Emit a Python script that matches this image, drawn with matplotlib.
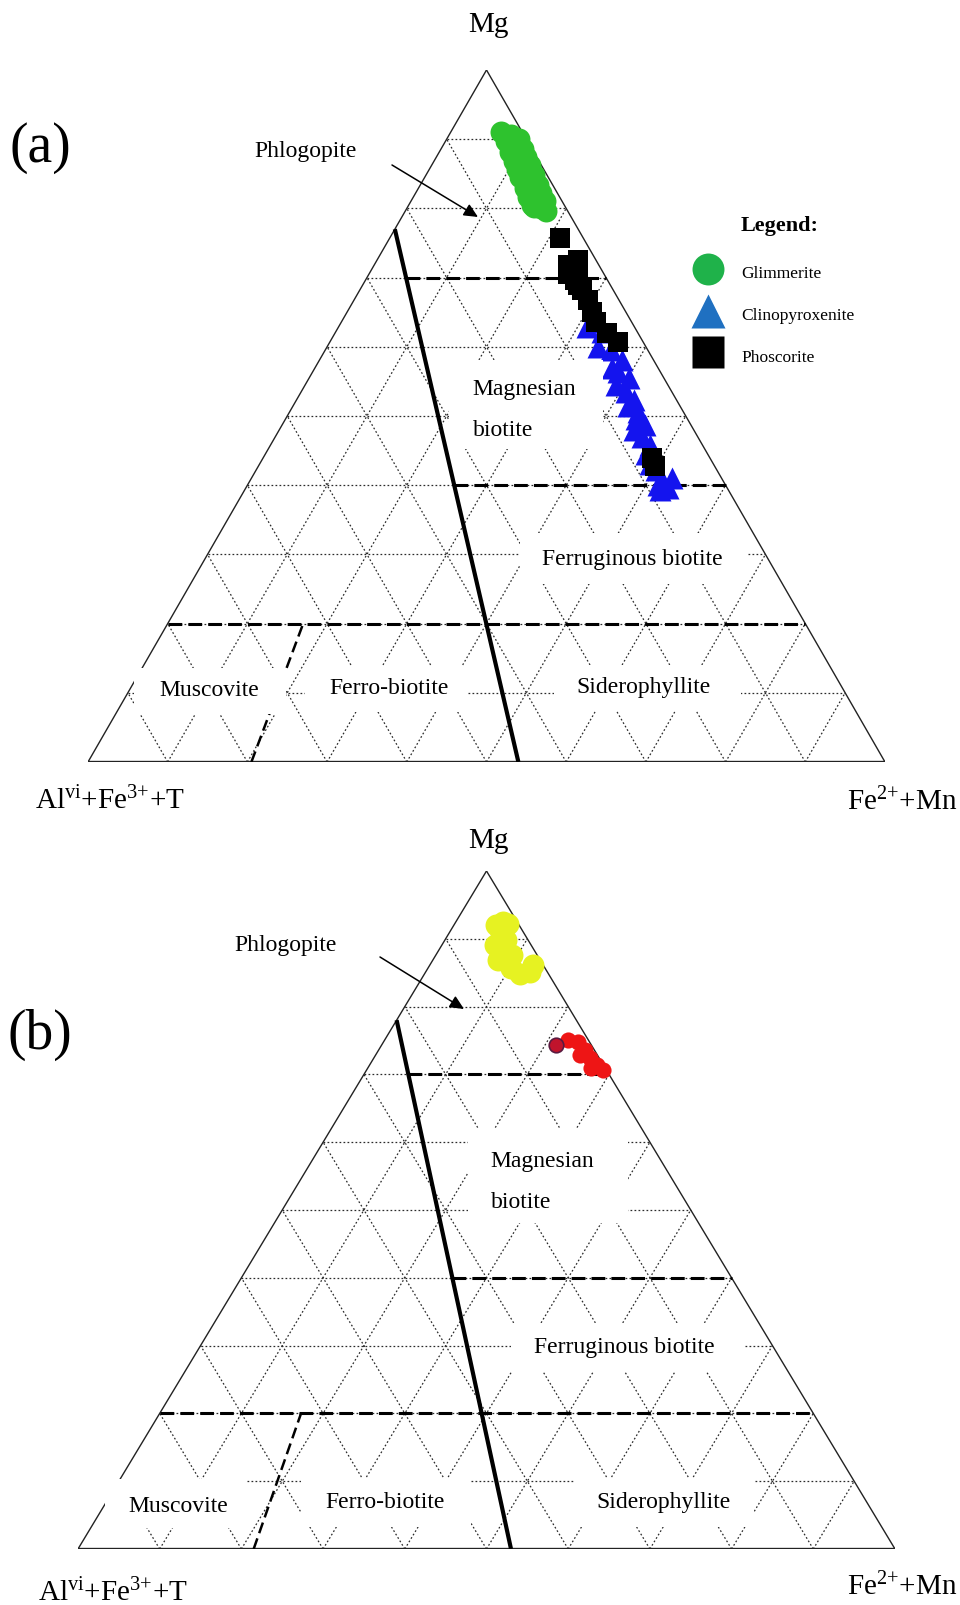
import numpy as np
import matplotlib
matplotlib.use("Agg")
import matplotlib.pyplot as plt
from matplotlib.patches import Rectangle
from matplotlib.lines import Line2D

# ---------------- data: ternary fractions (Mg, Fe2+ + Mn); remainder = Al(VI)+Fe3++Ti ----------------
# panel (a)
glimmerite_mg = [0.910, 0.906, 0.900, 0.898, 0.893, 0.886, 0.882, 0.880, 0.874, 0.868, 0.865, 0.862,
                 0.857, 0.851, 0.848, 0.846, 0.840, 0.834, 0.830, 0.828, 0.822, 0.816, 0.812, 0.810,
                 0.805, 0.800, 0.796, 0.802]
glimmerite_fe = [0.063, 0.078, 0.091, 0.075, 0.089, 0.103, 0.089, 0.100, 0.113, 0.100, 0.113, 0.123,
                 0.110, 0.125, 0.135, 0.119, 0.134, 0.147, 0.133, 0.144, 0.157, 0.144, 0.158, 0.168,
                 0.154, 0.168, 0.177, 0.158]

clinopyroxenite_mg = [0.629, 0.636, 0.621, 0.600, 0.595, 0.581, 0.570, 0.564, 0.555, 0.545, 0.535,
                      0.523, 0.515, 0.506, 0.495, 0.487, 0.480, 0.470, 0.458, 0.445, 0.430, 0.422,
                      0.408, 0.400, 0.396, 0.393, 0.410]
clinopyroxenite_fe = [0.312, 0.322, 0.334, 0.340, 0.359, 0.380, 0.372, 0.383, 0.401, 0.390, 0.408,
                      0.423, 0.420, 0.437, 0.440, 0.455, 0.445, 0.460, 0.476, 0.478, 0.490, 0.502,
                      0.516, 0.515, 0.530, 0.521, 0.528]

phoscorite_mg = [0.757, 0.725, 0.718, 0.714, 0.697, 0.705, 0.690, 0.682, 0.668, 0.650, 0.636, 0.620,
                 0.607, 0.440, 0.428]
phoscorite_fe = [0.214, 0.252, 0.243, 0.258, 0.262, 0.250, 0.270, 0.279, 0.293, 0.307, 0.319, 0.341,
                 0.361, 0.488, 0.497]

# panel (b)
yellow_mg = [0.925, 0.920, 0.922, 0.913, 0.898, 0.891, 0.891, 0.872, 0.876, 0.869, 0.857, 0.848, 0.851, 0.862]
yellow_fe = [0.058, 0.052, 0.065, 0.060, 0.075, 0.072, 0.065, 0.083, 0.093, 0.080, 0.101, 0.117, 0.128, 0.126]

red_mg = [0.743, 0.751, 0.748, 0.736, 0.729, 0.724, 0.714, 0.709, 0.706]
red_fe = [0.214, 0.224, 0.238, 0.253, 0.250, 0.265, 0.278, 0.274, 0.290]

# classification boundaries
grid_levels = [0.1, 0.2, 0.3, 0.4, 0.5, 0.6, 0.7, 0.8, 0.9]
partial_mg_levels = [0.7, 0.4]          # dashed, from the solid line to the Fe edge
full_mg_level = 0.2                      # dashed, full width
boundary_a = dict(top_mg=0.77, base_fe=0.54, mus_base_fe=0.205, mus_top_fe=0.170)
boundary_b = dict(top_mg=0.78, base_fe=0.53, mus_base_fe=0.215, mus_top_fe=0.173)

field_names = ["Magnesian", "biotite", "Ferruginous biotite", "Muscovite", "Ferro-biotite", "Siderophyllite"]
legend_labels = ["Glimmerite", "Clinopyroxenite", "Phoscorite"]

# ---------------- figure ----------------
W, H = 960, 1605
plt.rcParams['font.family'] = ['Liberation Serif', 'DejaVu Serif']
plt.rcParams['mathtext.fontset'] = 'custom'
plt.rcParams['mathtext.rm'] = 'Liberation Serif'
plt.rcParams['mathtext.it'] = 'Liberation Serif:italic'
plt.rcParams['mathtext.bf'] = 'Liberation Serif:bold'

fig = plt.figure(figsize=(W / 100, H / 100), dpi=100)
fig.patch.set_facecolor('white')
SQ = np.sqrt(3) / 2


def fx(x):
    return x / W


def fy(y):
    return 1 - y / H


def tern(mg, fe):
    mg = np.asarray(mg, float)
    fe = np.asarray(fe, float)
    return fe + mg / 2, mg * SQ


def make_panel(l, r, t, b):
    ax = fig.add_axes([l / W, 1 - b / H, (r - l) / W, (b - t) / H])
    ax.set_xlim(0, 1)
    ax.set_ylim(0, SQ)
    ax.axis('off')
    return ax


def draw_frame(ax):
    gkw = dict(color='#2a2a2a', lw=0.9, ls=(0, (1.4, 1.8)), zorder=1)
    for v in grid_levels:
        x, y = tern([v, v], [0, 1 - v]); ax.plot(x, y, **gkw)
        x, y = tern([0, 1 - v], [v, v]); ax.plot(x, y, **gkw)
        x, y = tern([0, 1 - v], [1 - v, 0]); ax.plot(x, y, **gkw)
    x, y = tern([0, 1, 0], [0, 0, 1])
    ax.plot(x[:2], y[:2], color='#222222', lw=1.0, zorder=2)
    ax.plot(x[1:], y[1:], color='#222222', lw=1.0, zorder=2)
    ax.plot([x[0], x[2]], [y[0], y[2]], color='#222222', lw=1.7, zorder=2)


def draw_fields(ax, top_mg, base_fe, mus_base_fe, mus_top_fe):
    x, y = tern([top_mg, 0], [0, base_fe])
    ax.plot(x, y, color='k', lw=3.0, solid_capstyle='butt', zorder=3)
    dkw = dict(color='k', lw=2.2, ls=(0, (4.5, 2.0)), zorder=3)
    for lev in partial_mg_levels:
        fe0 = base_fe * (1 - lev / top_mg)
        x, y = tern([lev, lev], [fe0, 1 - lev]); ax.plot(x, y, **dkw)
    x, y = tern([full_mg_level, full_mg_level], [0.0, 1 - full_mg_level]); ax.plot(x, y, **dkw)
    x, y = tern([0, full_mg_level], [mus_base_fe, mus_top_fe])
    ax.plot(x, y, color='k', lw=1.8, ls=(0, (4.5, 2.2)), zorder=3)


def box(x0, y0, x1, y1):
    fig.add_artist(Rectangle((fx(x0), fy(y1)), (x1 - x0) / W, (y1 - y0) / H,
                             transform=fig.transFigure, fc='white', ec='none', zorder=5))


def label(s, x, y, size=17, ha='center', va='center', **kw):
    fig.text(fx(x), fy(y), s, fontsize=size, ha=ha, va=va, zorder=6, **kw)


def arrow(ax, tail, tip):
    ax.annotate('', xy=(tip[0], H - tip[1]), xycoords='figure pixels',
                xytext=(tail[0], H - tail[1]), textcoords='figure pixels',
                arrowprops=dict(arrowstyle='-|>,head_length=0.6,head_width=0.28', color='k',
                                lw=1.1, shrinkA=0, shrinkB=0, mutation_scale=14),
                annotation_clip=False)


AL_LABEL = r"Al$^{\mathrm{vi}}$+Fe$^{3{+}}$+T"
FE_LABEL = r"Fe$^{2{+}}$+Mn"

# ---------------- panel (a) ----------------
ax_a = make_panel(88, 885, 70, 762)
draw_frame(ax_a)
draw_fields(ax_a, **boundary_a)
x, y = tern(glimmerite_mg, glimmerite_fe)
ax_a.scatter(x, y, s=250, marker='o', c='#2ec22e', linewidths=0, zorder=4, clip_on=False)
x, y = tern(clinopyroxenite_mg, clinopyroxenite_fe)
ax_a.scatter(x, y, s=250, marker='^', c='#1414ee', linewidths=0, zorder=4, clip_on=False)
x, y = tern(phoscorite_mg, phoscorite_fe)
ax_a.scatter(x, y, s=225, marker='s', c='#000000', linewidths=0, zorder=4, clip_on=False)

handles = [Line2D([], [], marker='o', ls='none', markersize=23, mfc='#1fb24a', mec='none'),
           Line2D([], [], marker='^', ls='none', markersize=24, mfc='#1f70c1', mec='none'),
           Line2D([], [], marker='s', ls='none', markersize=23, mfc='#000000', mec='none')]
ax_a.legend(handles, legend_labels, loc='upper left', bbox_to_anchor=(fx(692.5), fy(259.5)),
            bbox_transform=fig.transFigure, frameon=False, fontsize=12.5, handlelength=1.8,
            handleheight=2.0, labelspacing=0.85, handletextpad=1.0, borderpad=0, borderaxespad=0)
label("Legend:", 780, 226, size=16, fontweight='bold')

arrow(ax_a, (392, 165), (478, 217))
label("Phlogopite", 306, 157, va='baseline')
label("(a)", 40, 162, size=40, va='baseline')
label("Mg", 488, 32, size=21, va='baseline')
label(AL_LABEL, 110, 809, size=21, va='baseline')
label(FE_LABEL, 902, 810, size=21, va='baseline')

for b in [(449, 360, 603, 449), (520, 533, 748, 584), (134, 668, 286, 714),
          (305, 666, 468, 712), (554, 665, 741, 711)]:
    box(*b)
label(field_names[0], 472.6, 390, ha='left')
label(field_names[1], 472.6, 430, ha='left')
label(field_names[2], 632, 559)
label(field_names[3], 209, 691)
label(field_names[4], 389.5, 689)
label(field_names[5], 643, 688)

# ---------------- panel (b) ----------------
ax_b = make_panel(78, 895, 871, 1549)
draw_frame(ax_b)
draw_fields(ax_b, **boundary_b)
x, y = tern(yellow_mg, yellow_fe)
ax_b.scatter(x, y, s=250, marker='o', c='#e6f222', linewidths=0, zorder=4, clip_on=False)
x, y = tern(red_mg, red_fe)
ax_b.scatter(x[1:], y[1:], s=135, marker='o', c='#ee1515', linewidths=0, zorder=4, clip_on=False)
ax_b.scatter(x[:1], y[:1], s=110, marker='o', c='#c0142c', edgecolors='#5a1a40',
             linewidths=1.2, zorder=5, clip_on=False)

arrow(ax_b, (380, 957), (464, 1009))
label("Phlogopite", 286, 951, va='baseline')
label("(b)", 40, 1049, size=40, va='baseline')
label("Mg", 488, 848, size=21, va='baseline')
label(AL_LABEL, 113, 1601, size=21, va='baseline')
label(FE_LABEL, 902, 1595, size=21, va='baseline')

for b in [(468, 1128, 628, 1223), (511, 1323, 745, 1372), (105, 1479, 246, 1528),
          (301, 1478, 471, 1527), (575, 1478, 754, 1527)]:
    box(*b)
label(field_names[0], 490.5, 1161.5, ha='left')
label(field_names[1], 490.5, 1202.6, ha='left')
label(field_names[2], 624.6, 1347.7)
label(field_names[3], 178.5, 1506.7)
label(field_names[4], 384.6, 1502.6)
label(field_names[5], 663, 1502.6)

fig.savefig("out.png", dpi=100, facecolor='white')
